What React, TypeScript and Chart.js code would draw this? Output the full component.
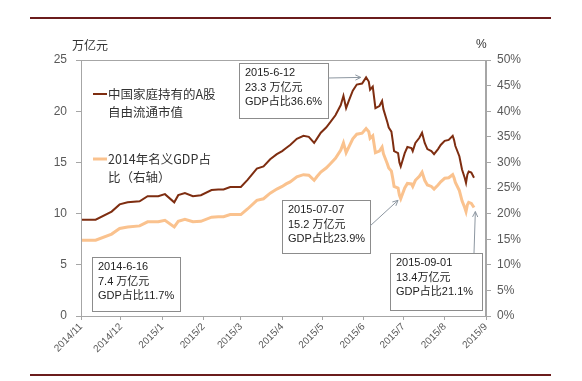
import React, { useEffect, useRef } from "react";
import { Chart, registerables } from "chart.js";

Chart.register(...registerables);

// day offset from 2014-11-01
const days = [
  0, 11, 23, 29, 35, 44, 50, 58, 63, 70, 73, 78, 84, 90, 98, 103, 107, 112, 120, 125,
  132, 137, 142, 147, 151, 154, 157, 162, 167, 171, 175, 177, 180, 184, 187, 191, 195, 197, 199, 201,
  204, 207, 211, 214, 216, 217, 219, 221, 224, 226, 227, 230, 231, 233, 234, 235, 238, 239, 240, 243,
  245, 248, 249, 251, 254, 256, 258, 260, 263, 265, 268, 270, 273, 276, 279, 280, 281, 284, 286, 288,
  289, 290, 291, 293, 295,
];

// 中国家庭持有的A股自由流通市值 (万亿元)
const marketCap = [
  9.4, 9.4, 10.2, 10.9, 11.1, 11.2, 11.7, 11.7, 11.9, 11.1, 11.8, 12.0, 11.7, 11.8, 12.3, 12.35, 12.35, 12.6, 12.6, 13.3,
  14.4, 14.6, 15.3, 15.8, 16.1, 16.4, 16.7, 17.3, 17.6, 17.5, 16.9, 17.3, 17.9, 18.4, 18.9, 19.6, 20.6, 21.5, 20.3, 21.0,
  22.0, 22.6, 22.7, 23.3, 22.9, 22.1, 22.4, 20.3, 20.5, 21.0, 20.2, 18.9, 18.4, 18.0, 17.1, 16.1, 15.9, 15.0, 14.6, 15.9,
  16.5, 16.4, 16.1, 16.9, 17.4, 17.9, 16.9, 16.3, 16.1, 15.8, 16.3, 16.7, 17.1, 17.2, 17.6, 17.2, 16.6, 15.6, 14.3, 13.5,
  13.0, 13.8, 14.1, 14.0, 13.5,
];

// 2014年名义GDP占比 (%, 右轴)
const gdpShare = [
  14.8, 14.8, 16.0, 17.1, 17.4, 17.6, 18.4, 18.4, 18.7, 17.4, 18.5, 18.9, 18.4, 18.5, 19.3, 19.4, 19.4, 19.8, 19.8, 20.9,
  22.6, 22.9, 24.0, 24.8, 25.3, 25.8, 26.2, 27.2, 27.6, 27.5, 26.5, 27.2, 28.1, 28.9, 29.7, 30.8, 32.4, 33.8, 31.9, 33.0,
  34.6, 35.5, 35.7, 36.6, 36.0, 34.7, 35.2, 31.9, 32.2, 33.0, 31.7, 29.7, 28.9, 28.3, 26.9, 25.3, 25.0, 23.6, 22.9, 25.0,
  25.9, 25.8, 25.3, 26.5, 27.3, 28.1, 26.5, 25.6, 25.3, 24.8, 25.6, 26.2, 26.9, 27.0, 27.6, 27.0, 26.1, 24.5, 22.5, 21.2,
  20.4, 21.7, 22.2, 22.0, 21.2,
];

const monthTickDays = [0, 30, 61, 92, 120, 151, 181, 212, 242, 273, 304];
const monthTickLabels = [
  "2014/11", "2014/12", "2015/1", "2015/2", "2015/3", "2015/4",
  "2015/5", "2015/6", "2015/7", "2015/8", "2015/9",
];

const seriesNames = ["中国家庭持有的A股自由流通市值", "2014年名义GDP占比（右轴）"];
const legendLines = [["中国家庭持有的A股", "自由流通市值"], ["2014年名义GDP占", "比（右轴）"]];

const annotationTexts = [
  ["2015-6-12", "23.3 万亿元", "GDP占比36.6%"],
  ["2015-07-07", "15.2 万亿元", "GDP占比23.9%"],
  ["2014-6-16", "7.4 万亿元", "GDP占比11.7%"],
  ["2015-09-01", "13.4万亿元", "GDP占比21.1%"],
];
// arrow tips in data units: [day, value, axis]
const annotationTips: (null | [number, number, string])[] = [
  [210, 23.3, "y"],
  [238, 22.6, "y1"],
  null,
  [296, 20.4, "y1"],
];

const BROWN = "#7E2D10";
const ORANGE = "#FAC28E";
const AXIS = "#A6A6A6";
const TXT = "#595959";
const FONT = '"Liberation Sans", "Noto Sans CJK SC", sans-serif';
const CJK = '"Noto Sans CJK SC", "Liberation Sans", sans-serif';

export default function App() {
  const ref = useRef<HTMLCanvasElement>(null);

  useEffect(() => {
    document.body.style.margin = "0";
    const canvas = ref.current!;

    // layout of annotation boxes: [x, y, w, h, arrowStartX, arrowStartY]
    const boxes = [
      [239, 63, 89, 55, 328, 78],
      [282, 200, 88, 53, 370, 226],
      [92, 257, 88, 54, 0, 0],
      [390, 253, 92, 57, 474, 253],
    ];

    const overlay = {
      id: "overlay",
      afterDraw(chart: any) {
        const ctx = chart.ctx as CanvasRenderingContext2D;
        const { left, right, top, bottom } = chart.chartArea;
        ctx.save();
        // plot box
        ctx.strokeStyle = AXIS;
        ctx.lineWidth = 1;
        ctx.strokeRect(left + 0.5, top + 0.5, right - left - 1, bottom - top);
        // page rules
        ctx.strokeStyle = "#6B1C1C";
        ctx.lineWidth = 2;
        ctx.beginPath();
        ctx.moveTo(30, 18);
        ctx.lineTo(551, 18);
        ctx.moveTo(30, 375);
        ctx.lineTo(551, 375);
        ctx.stroke();
        // axis unit titles
        ctx.fillStyle = "#333";
        ctx.textBaseline = "middle";
        ctx.font = `12px ${CJK}`;
        ctx.textAlign = "left";
        ctx.fillText("万亿元", 72, 45);
        ctx.font = `12px ${FONT}`;
        ctx.fillText("%", 476, 45);
        // legend
        const legendY = [94, 159];
        const legendColors = [BROWN, ORANGE];
        const legendWidths = [2, 3];
        legendLines.forEach((lines, i) => {
          ctx.strokeStyle = legendColors[i];
          ctx.lineWidth = legendWidths[i];
          ctx.beginPath();
          ctx.moveTo(93, legendY[i]);
          ctx.lineTo(107, legendY[i]);
          ctx.stroke();
          ctx.fillStyle = "#333";
          ctx.font = `12.5px ${CJK}`;
          lines.forEach((t, j) => ctx.fillText(t, 108, legendY[i] + j * 18));
        });
        // annotations
        annotationTexts.forEach((lines, i) => {
          const [bx, by, bw, bh, ax, ay] = boxes[i];
          ctx.fillStyle = "#fff";
          ctx.fillRect(bx, by, bw, bh);
          ctx.strokeStyle = "#8C8C8C";
          ctx.lineWidth = 1;
          ctx.strokeRect(bx + 0.5, by + 0.5, bw, bh);
          ctx.fillStyle = "#222";
          ctx.font = `11px ${FONT}`;
          lines.forEach((t, j) => ctx.fillText(t, bx + 6, by + 10 + j * 14.5));
          const tip = annotationTips[i];
          if (tip) {
            const tx = chart.scales.x.getPixelForValue(tip[0]);
            const ty = chart.scales[tip[2]].getPixelForValue(tip[1]);
            ctx.strokeStyle = "#8C96A0";
            ctx.lineWidth = 1;
            ctx.beginPath();
            ctx.moveTo(ax, ay);
            ctx.lineTo(tx, ty);
            ctx.stroke();
            const ang = Math.atan2(ty - ay, tx - ax);
            const L = 6;
            ctx.beginPath();
            ctx.moveTo(tx - L * Math.cos(ang - 0.45), ty - L * Math.sin(ang - 0.45));
            ctx.lineTo(tx, ty);
            ctx.lineTo(tx - L * Math.cos(ang + 0.45), ty - L * Math.sin(ang + 0.45));
            ctx.stroke();
          }
        });
        ctx.restore();
      },
    };

    const chart = new Chart(canvas, {
      type: "line",
      data: {
        datasets: [
          {
            label: seriesNames[1],
            data: days.map((d, i) => ({ x: d, y: gdpShare[i] })),
            yAxisID: "y1",
            borderColor: ORANGE,
            borderWidth: 3,
            pointRadius: 0,
            tension: 0,
          },
          {
            label: seriesNames[0],
            data: days.map((d, i) => ({ x: d, y: marketCap[i] })),
            yAxisID: "y",
            borderColor: BROWN,
            borderWidth: 2,
            pointRadius: 0,
            tension: 0,
          },
        ],
      },
      options: {
        animation: false,
        responsive: false,
        devicePixelRatio: 1,
        layout: { padding: { top: 60, left: 0, right: 0, bottom: 0 } },
        plugins: { legend: { display: false }, tooltip: { enabled: false } },
        scales: {
          x: {
            type: "linear",
            min: 0,
            max: 304,
            afterBuildTicks: (scale: any) => {
              scale.ticks = monthTickDays.map((v) => ({ value: v }));
            },
            afterFit: (scale: any) => {
              scale.height = 65;
            },
            ticks: {
              autoSkip: false,
              minRotation: 45,
              maxRotation: 45,
              padding: 1,
              color: TXT,
              font: { size: 10, family: FONT },
              callback: (v: any) => monthTickLabels[monthTickDays.indexOf(Number(v))],
            },
            grid: { drawOnChartArea: false, drawTicks: true, tickLength: 4, color: AXIS },
            border: { display: true, color: AXIS },
          },
          y: {
            position: "left",
            min: 0,
            max: 25,
            afterFit: (scale: any) => {
              scale.width = 81;
            },
            ticks: { stepSize: 5, padding: 9, color: TXT, font: { size: 12, family: FONT } },
            grid: { drawOnChartArea: false, drawTicks: true, tickLength: 5, color: AXIS },
            border: { display: true, color: AXIS },
          },
          y1: {
            position: "right",
            min: 0,
            max: 50,
            afterFit: (scale: any) => {
              scale.width = 96;
            },
            ticks: {
              stepSize: 5,
              padding: 6,
              color: TXT,
              font: { size: 12, family: FONT },
              callback: (v: any) => `${v}%`,
            },
            grid: { drawOnChartArea: false, drawTicks: true, tickLength: 5, color: AXIS },
            border: { display: true, color: AXIS },
          },
        },
      },
      plugins: [overlay],
    } as any);

    return () => chart.destroy();
  }, []);

  return (
    <div style={{ width: 582, height: 381, background: "#fff" }}>
      <canvas ref={ref} width={582} height={381} />
    </div>
  );
}
